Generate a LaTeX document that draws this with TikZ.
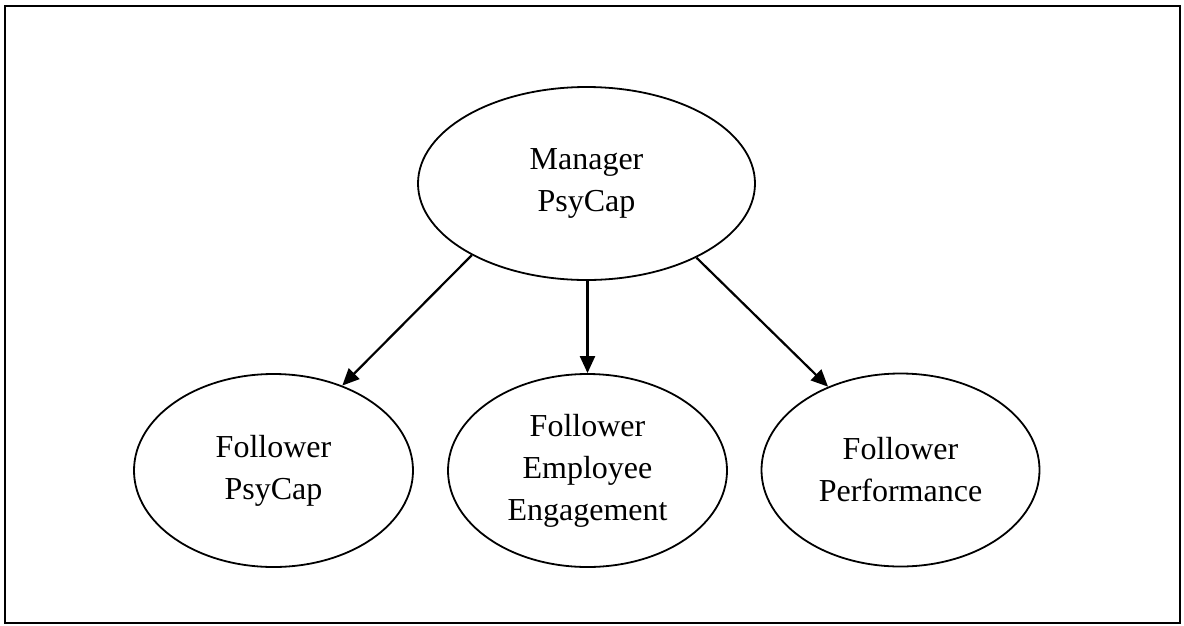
\documentclass[tikz,border=0pt]{standalone}
\usepackage{fontspec}
\setmainfont{Liberation Serif}
\usetikzlibrary{shapes.geometric,arrows.meta}
\begin{document}
\begin{tikzpicture}[x=1pt,y=-1pt,
  oval/.style={ellipse,draw,line width=1.8pt,inner sep=0pt,align=center,
    font=\fontsize{32}{42}\selectfont},
  conn/.style={line width=2.2pt,-{Triangle[length=17pt,width=15pt]}}]
\useasboundingbox (0,0) rectangle (1184,625);
\draw[line width=2.2pt] (5,6) rectangle (1180,623);
\node[oval,minimum width=337pt,minimum height=193pt] (m) at (586.5,183.5) {Manager\\PsyCap};
\node[oval,minimum width=279pt,minimum height=193pt] (fp) at (273.5,470.5) {Follower\\PsyCap};
\node[oval,minimum width=279pt,minimum height=193pt] (fe) at (587.5,470.5) {Follower\\Employee\\Engagement};
\node[oval,minimum width=278pt,minimum height=193pt] (ff) at (900.5,470) {Follower\\Performance};
\draw[conn] (m.212.9) -- (fp.51.1);
\draw[conn] (m.south -| fe.north) -- (fe.north);
\draw[conn] (m.326.4) -- (ff.131.2);
\end{tikzpicture}
\end{document}
